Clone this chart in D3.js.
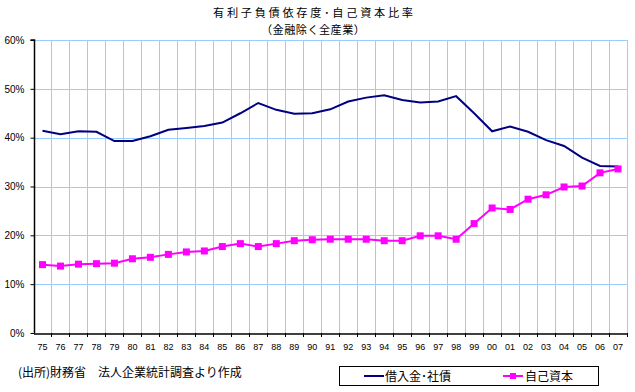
<!DOCTYPE html>
<html><head><meta charset="utf-8">
<script src="https://cdn.jsdelivr.net/npm/d3@7"></script>
<style>
body{margin:0;background:#fff;}
svg{display:block;font-family:"Noto Sans CJK JP","Noto Sans",sans-serif;}
</style></head>
<body>
<script>
const years = ["75","76","77","78","79","80","81","82","83","84","85","86","87","88","89","90","91","92","93","94","95","96","97","98","99","00","01","02","03","04","05","06","07"];
const debtRatio = [41.4,40.7,41.3,41.2,39.3,39.3,40.3,41.6,42.0,42.4,43.1,45.0,47.1,45.7,44.9,45.0,45.8,47.4,48.2,48.7,47.7,47.2,47.4,48.5,45.0,41.3,42.3,41.2,39.5,38.3,35.9,34.2,34.1];
const equityRatio = [14.0,13.7,14.1,14.2,14.3,15.2,15.5,16.1,16.6,16.8,17.7,18.3,17.7,18.3,18.9,19.1,19.2,19.2,19.2,18.9,18.9,19.9,19.9,19.2,22.4,25.6,25.3,27.4,28.3,29.9,30.1,32.8,33.6];
const yTicks = [0,10,20,30,40,50,60];
const seriesNames = ["借入金･社債","自己資本"];
const titleLines = ["有利子負債依存度･自己資本比率","（金融除く全産業）"];
const sourceNote = "(出所)財務省　法人企業統計調査より作成";

const W=635,H=392;
const svg=d3.select("body").append("svg").attr("width",W).attr("height",H);
const L=33.5,R=627,T=40,B=333;
const x=d3.scaleBand().domain(years).range([L,R]).padding(0);
const y=d3.scaleLinear().domain([0,60]).range([B,T]);
const grid="#99CCFF";

// horizontal grid
svg.append("g").selectAll("line").data(yTicks.filter(d=>d>0)).join("line")
  .attr("x1",L).attr("x2",R).attr("y1",d=>Math.round(y(d))+0.5).attr("y2",d=>Math.round(y(d))+0.5)
  .attr("stroke",grid).attr("stroke-width",1);
// vertical grid at band boundaries
svg.append("g").selectAll("line").data(years).join("line")
  .attr("x1",d=>Math.round(x(d)+x.bandwidth())+0.5).attr("x2",d=>Math.round(x(d)+x.bandwidth())+0.5)
  .attr("y1",T).attr("y2",B).attr("stroke",grid).attr("stroke-width",1);

// y axis
const yAxis=svg.append("g").attr("transform",`translate(${Math.round(L)+0.5},0)`)
  .call(d3.axisLeft(y).tickValues(yTicks).tickFormat(d=>d+"%").tickSize(4).tickPadding(6));
yAxis.select(".domain").attr("stroke","#000").attr("stroke-width",1.5).attr("d",`M-4,${T}H0V${B}`);
yAxis.selectAll(".tick line").attr("stroke","#000");
yAxis.selectAll("text").attr("font-family","Liberation Sans, Arial, sans-serif").attr("font-size",10).attr("fill","#000");

// x axis
const xAxis=svg.append("g").attr("transform",`translate(0,${B+0.5})`)
  .call(d3.axisBottom(x).tickSize(0).tickPadding(10));
xAxis.select(".domain").attr("stroke","#000").attr("stroke-width",1.5);
xAxis.selectAll("text").attr("font-family","Liberation Sans Narrow, Liberation Sans, Arial, sans-serif").attr("font-size",9).attr("fill","#000");
svg.append("g").selectAll("line").data(years).join("line")
  .attr("x1",d=>Math.round(x(d)+x.bandwidth())+0.5).attr("x2",d=>Math.round(x(d)+x.bandwidth())+0.5)
  .attr("y1",B).attr("y2",B+4).attr("stroke","#000");

const cx=d=>x(d)+x.bandwidth()/2;
const line=d3.line().x((d,i)=>cx(years[i])).y(d=>y(d));
svg.append("path").datum(debtRatio).attr("d",line).attr("fill","none").attr("stroke","#000080").attr("stroke-width",2);
svg.append("path").datum(equityRatio).attr("d",line).attr("fill","none").attr("stroke","#FF00FF").attr("stroke-width",2);
svg.append("g").selectAll("rect").data(equityRatio).join("rect")
  .attr("x",(d,i)=>cx(years[i])-3.5).attr("y",d=>y(d)-3.5).attr("width",7).attr("height",7).attr("fill","#FF00FF");

// title
svg.append("g").selectAll("text").data(titleLines).join("text")
  .attr("x",313).attr("y",(d,i)=>17+i*16.5).attr("text-anchor","middle")
  .attr("font-size",11.2).attr("textLength",(d,i)=>i===0?200:104).attr("lengthAdjust","spacing")
  .attr("fill","#000").text(d=>d);

// source
svg.append("text").attr("x",18).attr("y",377).attr("font-size",12).attr("fill","#000").text(sourceNote);

// legend
const lg=svg.append("g");
lg.append("rect").attr("x",339.5).attr("y",366.5).attr("width",259).attr("height",19).attr("fill","#fff").attr("stroke","#000").attr("stroke-width",1);
lg.append("line").attr("x1",364).attr("x2",384).attr("y1",376).attr("y2",376).attr("stroke","#000080").attr("stroke-width",2);
lg.append("text").attr("x",385).attr("y",381).attr("font-size",12).text(seriesNames[0]);
lg.append("line").attr("x1",503).attr("x2",523).attr("y1",376).attr("y2",376).attr("stroke","#FF00FF").attr("stroke-width",2);
lg.append("rect").attr("x",510).attr("y",373).attr("width",6).attr("height",6).attr("fill","#FF00FF");
lg.append("text").attr("x",525).attr("y",381).attr("font-size",12).text(seriesNames[1]);
</script>
</body></html>
